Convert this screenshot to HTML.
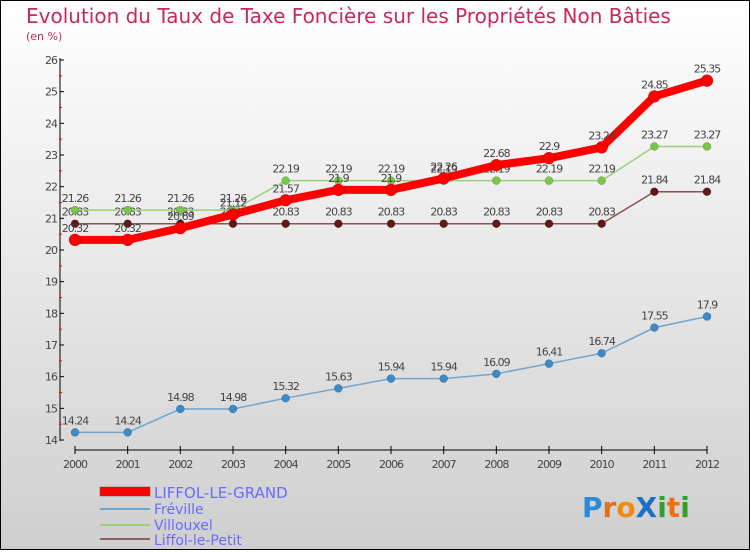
<!DOCTYPE html>
<html><head><meta charset="utf-8"><style>
body{margin:0}
#c{width:750px;height:550px;position:relative;font-family:"DejaVu Sans","Liberation Sans",sans-serif}
</style></head><body>
<div id="c">
<svg id="s" width="750" height="550" xmlns="http://www.w3.org/2000/svg">
<defs><linearGradient id="bg" x1="0" y1="0" x2="0" y2="1"><stop offset="0" stop-color="#ffffff"/><stop offset="1" stop-color="#cfcfcf"/></linearGradient></defs>
<rect x="0.5" y="0.5" width="749" height="549" fill="url(#bg)" stroke="#000"/>
<text x="26" y="23" font-size="20" fill="#c8285a">Evolution du Taux de Taxe Foncière sur les Propriétés Non Bâties</text>
<text x="26" y="40" font-size="11" fill="#c8285a">(en %)</text>
<g id="axes"></g><g id="series"></g>
<g>
<rect x="100" y="487" width="50" height="9" fill="#f00" stroke="#555" stroke-width="0.5"/>
<text x="154" y="498" font-size="15" fill="#6b6bff">LIFFOL-LE-GRAND</text>
<line x1="100" y1="509" x2="150" y2="509" stroke="#6fa6d0" stroke-width="2"/>
<text x="154" y="514" font-size="14" fill="#6b6bff">Fréville</text>
<line x1="100" y1="525" x2="150" y2="525" stroke="#9ad07a" stroke-width="2"/>
<text x="154" y="530" font-size="14" fill="#6b6bff">Villouxel</text>
<line x1="100" y1="539" x2="150" y2="539" stroke="#906060" stroke-width="2"/>
<text x="154" y="545" font-size="14" fill="#6b6bff">Liffol-le-Petit</text>
</g>
<g font-size="28" font-weight="bold" font-family="DejaVu Sans, sans-serif">
<text x="582" y="517"><tspan fill="#2a8ad8">P</tspan><tspan fill="#e07020">r</tspan><tspan fill="#f08a10">o</tspan><tspan fill="#1a70c8">X</tspan><tspan fill="#30a030">i</tspan><tspan fill="#f07010">t</tspan><tspan fill="#30a030">i</tspan></text>
</g>
</svg>
</div>
<script>
const years=["2000","2001","2002","2003","2004","2005","2006","2007","2008","2009","2010","2011","2012"];
const yTicks=[14,15,16,17,18,19,20,21,22,23,24,25,26];
const grand=[20.32,20.32,20.69,21.12,21.57,21.9,21.9,22.26,22.68,22.9,23.24,24.85,25.35];
const freville=[14.24,14.24,14.98,14.98,15.32,15.63,15.94,15.94,16.09,16.41,16.74,17.55,17.9];
const villouxel=[21.26,21.26,21.26,21.26,22.19,22.19,22.19,22.19,22.19,22.19,22.19,23.27,23.27];
const petit=[20.83,20.83,20.83,20.83,20.83,20.83,20.83,20.83,20.83,20.83,20.83,21.84,21.84];
const NS="http://www.w3.org/2000/svg";
const X=i=>75+i*(632/12);
const Y=v=>440-(v-14)*(380/12);
function mk(tag,attrs,parent,txt){const e=document.createElementNS(NS,tag);for(const k in attrs)e.setAttribute(k,attrs[k]);if(txt!==undefined)e.textContent=txt;parent.appendChild(e);return e;}
const ax=document.getElementById('axes');
let e=mk('line',{x1:60,y1:58,x2:60,y2:441,stroke:'#000','stroke-width':1},ax);


e=mk('line',{x1:75,y1:450,x2:707,y2:450,stroke:'#000','stroke-width':1},ax);


yTicks.forEach(v=>{
  mk('line',{x1:60,y1:Y(v),x2:64,y2:Y(v),stroke:'#000'},ax);
  if(v<26)mk('line',{x1:59,y1:Y(v+0.5),x2:62,y2:Y(v+0.5),stroke:'#f00'},ax);
  const t=mk('text',{x:57,y:Y(v)+4,'font-size':11,fill:'#444','text-anchor':'end','letter-spacing':'-1'},ax,String(v));
  
  
});
years.forEach((y,i)=>{
  mk('line',{x1:X(i),y1:446,x2:X(i),y2:454,stroke:'#000'},ax);
  const t=mk('text',{x:X(i),y:468,'font-size':11,fill:'#444','text-anchor':'middle','letter-spacing':'-1'},ax,y);
  
  
});
const sg=document.getElementById('series');
function series(name,data,color,dot,w,r){
  const g=mk('g',{},sg);
  
  
  mk('polyline',{points:data.map((v,i)=>X(i)+','+Y(v)).join(' '),fill:'none',stroke:color,'stroke-width':w,'stroke-linejoin':'round'},g);
  data.forEach((v,i)=>{
    const c=mk('circle',{cx:X(i),cy:Y(v),r:r,fill:dot,stroke:'rgba(0,0,0,0.3)','stroke-width':0.5},g);
    
    
    const t=mk('text',{x:X(i),y:Y(v)-8,'font-size':11,fill:'#444','text-anchor':'middle','letter-spacing':'-1'},g,String(v));
    
    
  });
}
series('freville',freville,'#6fa6d0','#3d8ac8',1.5,4);
series('liffol-le-petit',petit,'#905050','#601818',1.5,4);
series('villouxel',villouxel,'#9ad07a','#78c848',1.5,4);
series('liffol-le-grand',grand,'#ff0000','#ff0000',8,6);
</script>
</body></html>
